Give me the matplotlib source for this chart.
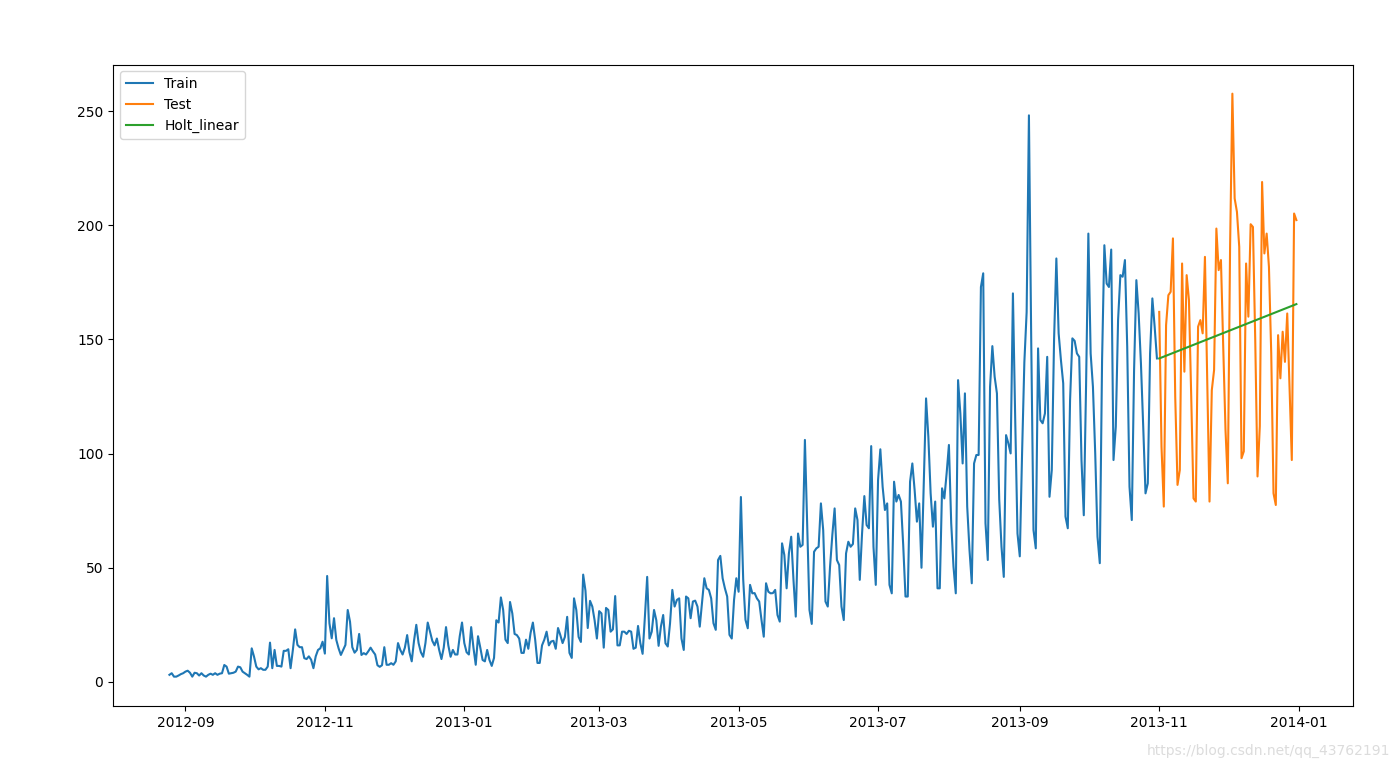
import pandas as pd
import matplotlib
matplotlib.use('Agg')
import matplotlib.pyplot as plt
import matplotlib.dates as mdates

# daily mean passenger counts, one list per month
aug12 = [3.1, 3.8, 2.3, 2.3, 2.8, 3.4, 3.8]  # starts 2012-08-25
sep12 = [4.5, 4.9, 4.0, 2.3, 4.0, 3.8, 2.8, 3.8, 2.8, 2.3, 3.1, 3.6, 3.1, 3.8, 3.1,
         3.6, 3.8, 7.4, 6.7, 3.6, 3.8, 4.0, 4.5, 6.7, 6.4, 4.5, 3.8, 3.1, 2.3, 14.7]
oct12 = [11.1, 6.7, 5.5, 6.0, 5.3, 5.3, 6.7, 17.2, 6.0, 14.0, 7.0, 7.0, 6.7, 13.6, 13.6,
         14.3, 6.0, 14.0, 23.0, 16.2, 15.2, 15.2, 10.4, 10.0, 11.2, 9.7, 6.0, 11.2, 14.0, 14.7, 17.6]
nov12 = [12.4, 46.4, 25.7, 19.1, 27.9, 18.4, 14.7, 11.8, 14.0, 16.2, 31.5, 26.4, 15.2, 12.8, 14.0,
         21.0, 11.8, 12.6, 12.0, 13.4, 15.0, 13.4, 12.0, 7.3, 6.6, 7.3, 15.2, 7.5, 7.5, 8.2]
dec12 = [7.5, 9, 17, 14, 12, 15, 20.5, 13, 9, 18, 25, 17, 13, 11, 17,
         26, 22, 18, 16, 19, 14, 10, 15, 24, 16, 11, 14, 12, 12, 20, 26]
jan13 = [17, 13, 12, 24, 15, 7.5, 20, 15, 9.6, 9, 14, 9.6, 7, 10.5, 27,
         26, 37, 31.5, 18.5, 17, 35, 30, 21, 20.5, 19, 12.7, 12.7, 18.5, 14.5, 21.5, 26]
feb13 = [18.5, 8.3, 8.3, 16, 18.5, 22, 16, 17.7, 18, 14.5, 23.6, 20.5, 17, 19.7,
         28.5, 12.7, 10.5, 36.6, 31.5, 19.7, 17.5, 47, 40, 23.6, 35.5, 33, 27, 19]
mar13 = [31, 30, 15, 32.4, 31.5, 22, 23, 37.6, 16, 16, 22, 22, 21, 22.4, 22,
         14.5, 15, 24.5, 17, 12.3, 28.5, 46, 19, 22, 31.5, 27, 15.8, 24.2, 29.3, 16.9, 15.5]
apr13 = [25.7, 40.3, 33, 35.9, 36.6, 19, 14, 37.4, 36.6, 27.9, 35.2, 35.6, 33, 24.2, 35,
         45.4, 41, 40.3, 36.6, 25.7, 22.8, 53.4, 55.2, 45.4, 41, 37.4, 20.6, 19, 35.9, 45.4]
may13 = [39.5, 81, 45, 27.2, 23.5, 42.5, 38.8, 38.9, 36.6, 35.2, 27.2, 19.8, 43.2, 39.5, 38.8,
         38.9, 40.3, 29.3, 26.4, 60.7, 55.6, 41, 56.3, 63.6, 44.7, 28.6, 65, 59.2, 60, 106, 68]
jun13 = [31.5, 25.4, 57, 58.5, 59.2, 78.2, 66.5, 35.2, 33, 50.5, 64.4, 76, 53.4, 51.2, 33,
         27.1, 56.3, 61.4, 59.2, 60.4, 76, 70.9, 44.7, 65, 81.4, 68.7, 67.3, 103.3, 59.2, 42.5]
jul13 = [88.4, 101.9, 85.5, 75.3, 78.2, 42.5, 38.8, 87.7, 79, 81.9, 79, 60, 37.4, 37.4, 87.7,
         95.7, 84, 70.2, 78.2, 50, 88, 124.2, 107.4, 82.6, 68, 79, 41, 41, 84.8, 80.4, 91.4]
aug13 = [103.8, 69.5, 50.5, 38.8, 132.2, 117.6, 95.7, 126.4, 76.8, 57.8, 43.2, 95.7, 99.4, 99.4, 173,
         179, 69.5, 53.4, 129.3, 147.1, 133.7, 126.4, 80, 59.2, 46, 108.1, 104.5, 100.1, 170.2, 115, 65]
sep13 = [55, 100, 140, 162, 248.2, 150, 66.5, 58.5, 146.1, 114.7, 113.3, 117.6, 142.4, 81.1, 92.8,
         150, 185.5, 152.7, 141, 130.8, 72.4, 67.3, 123.5, 150.5, 149.4, 143.9, 142.4, 97, 73, 130]
oct13 = [196.4, 143.9, 129.3, 100.1, 63.6, 52, 141, 191.3, 174.5, 173, 189.4, 97.2, 111.8, 158.5, 178.2,
         177.5, 184.8, 146.8, 85.5, 70.9, 136.6, 176, 161.4, 139.5, 111.8, 82.6, 87, 143.9, 168, 155.6, 141.7]

# test period
nov13 = [162.1, 103, 76.8, 156.3, 169.4, 170.9, 194.3, 124.9, 86.3, 92.8, 183.3, 135.9, 178.2, 167.3, 124.9,
         80.4, 79, 155.6, 158.5, 152.7, 186.2, 132.2, 79, 127.8, 136.6, 198.6, 180.4, 184.8, 146.8, 110.3]
dec13 = [87, 190.6, 257.7, 211.8, 205.9, 190.6, 98, 101, 183.3, 160, 200.5, 199.3, 150, 90, 112,
         219, 187.7, 196.4, 181.8, 143.9, 82.6, 77.5, 151.9, 133, 153.4, 140.2, 161.4, 129.3, 97.2, 205.2, 202.3]

# Holt linear forecast (straight line from first to last forecast day)
holt_dates = ['2013-11-01', '2013-12-31']
holt_values = [141.7, 165.5]

train_months = [('2012-08-25', aug12), ('2012-09-01', sep12), ('2012-10-01', oct12),
                ('2012-11-01', nov12), ('2012-12-01', dec12), ('2013-01-01', jan13),
                ('2013-02-01', feb13), ('2013-03-01', mar13), ('2013-04-01', apr13),
                ('2013-05-01', may13), ('2013-06-01', jun13), ('2013-07-01', jul13),
                ('2013-08-01', aug13), ('2013-09-01', sep13), ('2013-10-01', oct13)]
test_months = [('2013-11-01', nov13), ('2013-12-01', dec13)]


def to_series(months):
    parts = [pd.Series(vals, index=pd.date_range(start, periods=len(vals), freq='D'))
             for start, vals in months]
    return pd.concat(parts)


train = to_series(train_months)
test = to_series(test_months)
holt = pd.Series(holt_values, index=pd.to_datetime(holt_dates))

fig = plt.figure(figsize=(13.96, 7.68), dpi=100)
ax = fig.add_axes([0.081, 0.081, 0.888, 0.835])

ax.plot(train.index, train.values, label='Train')
ax.plot(test.index, test.values, label='Test')
ax.plot(holt.index, holt.values, label='Holt_linear')
ax.legend(loc='upper left')

ax.xaxis.set_major_locator(mdates.MonthLocator(bymonth=[1, 3, 5, 7, 9, 11]))
ax.xaxis.set_major_formatter(mdates.DateFormatter('%Y-%m'))

fig.text(0.996, 0.013, 'https://blog.csdn.net/qq_43762191', ha='right', va='bottom',
         fontsize=10, color='#dcdcdc')

fig.savefig('out.png', dpi=100)
